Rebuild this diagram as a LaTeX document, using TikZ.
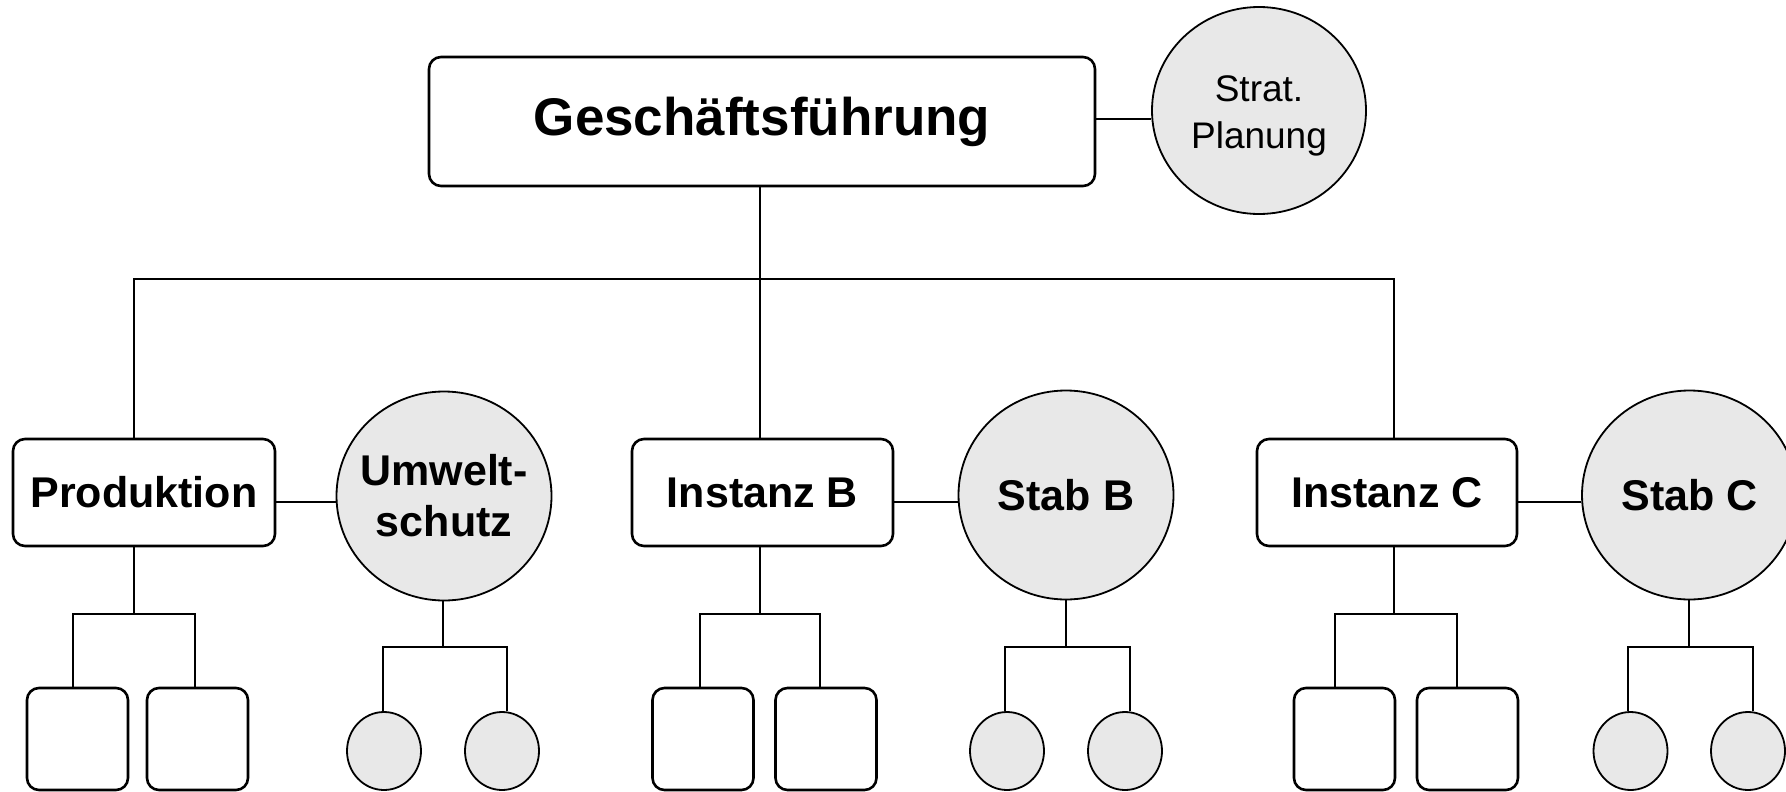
\documentclass[tikz,border=0pt]{standalone}
\usepackage{fontspec}
\setmainfont{Liberation Sans}
\usetikzlibrary{shapes.geometric}
\definecolor{staffgray}{RGB}{232,232,232}
\begin{document}
\begin{tikzpicture}[x=1pt,y=-1pt,
  unit/.style={draw, line width=2.6pt, rounded corners=12pt, inner sep=0pt, fill=white},
  staff/.style={ellipse, draw, line width=1.8pt, fill=staffgray, inner sep=0pt, align=center},
  boldlabel/.style={font=\bfseries\fontsize{43}{51}\selectfont},
  lvltwo/.style={unit, boldlabel, minimum height=107pt},
  bigstaff/.style={staff, boldlabel, minimum width=215pt, minimum height=209pt},
  leafbox/.style={unit, minimum width=101pt, minimum height=102pt},
  leafstaff/.style={staff, minimum width=74pt, minimum height=78pt},
  tree/.style={line width=2.5pt},
  link/.style={line width=1.8pt}]
\useasboundingbox (0,0) rectangle (1786,792);

% top management and its staff unit
\node[unit, minimum width=666pt, minimum height=129pt,
      font=\bfseries\fontsize{53}{62}\selectfont] (gf) at (762,121.5) {Geschäftsführung};
\node[staff, minimum width=214pt, minimum height=207pt,
      label={[font=\fontsize{37}{47}\selectfont, align=center, yshift=-5pt]center:Strat.\\Planung}]
      (strat) at (1259,110.5) {};
\coordinate (gfL) at ([yshift=2.5pt]gf.east);
\draw[link] (gfL) -- (gfL -| strat.west);

% second level: line units
\node[lvltwo, minimum width=262pt] (prod)  at (144,492.5)  {Produktion};
\node[lvltwo, minimum width=261pt] (instB) at (762.5,492.5) {Instanz B};
\node[lvltwo, minimum width=260pt] (instC) at (1387,492.5) {Instanz C};

% second level: staff units (negative inner sep keeps the two-line label
% from widening the ellipse)
\node[bigstaff, inner sep=-12pt] (umw) at (444,496) {Umwelt-\\schutz};
\node[bigstaff] (stabB) at (1066,495)   {Stab B};
\node[bigstaff] (stabC) at (1689.5,495) {Stab C};

% bus from top management to the line units
\coordinate (busL) at (134,279);
\coordinate (busM) at (760,279);
\coordinate (busR) at (1394,279);
\draw[tree] (gf.south -| busM) -- (instB.north -| busM);
\draw[tree] (prod.north -| busL) -- (busL) -- (busR) -- (instC.north -| busR);

% line units to their staff units
\coordinate (prodL)  at ([yshift=-9.5pt]prod.east);
\coordinate (instBL) at ([yshift=-9.5pt]instB.east);
\coordinate (instCL) at ([yshift=-9.5pt]instC.east);
\draw[link] (prodL)  -- (prodL -| umw.west);
\draw[link] (instBL) -- (instBL -| stabB.west);
\draw[link] (instCL) -- (instCL -| stabC.west);

% third level: subordinate units
\node[leafbox] (p1) at (77.5,739)  {};
\node[leafbox] (p2) at (197.5,739) {};
\node[leafbox] (b1) at (703,739)   {};
\node[leafbox] (b2) at (826,739)   {};
\node[leafbox] (c1) at (1344.5,739) {};
\node[leafbox] (c2) at (1467.5,739) {};

\node[leafstaff] (u1)  at (384,751)    {};
\node[leafstaff] (u2)  at (502,751)    {};
\node[leafstaff] (sb1) at (1007,751)   {};
\node[leafstaff] (sb2) at (1125,751)   {};
\node[leafstaff] (sc1) at (1630.5,751) {};
\node[leafstaff] (sc2) at (1748,751)   {};

% brackets below the line units
\foreach \top/\jx/\lx/\rx/\lft/\rgt in
  {prod/134/73/195/p1/p2, instB/760/700/820/b1/b2, instC/1394/1335/1457/c1/c2}{
  \coordinate (J) at (\jx,614);
  \coordinate (L) at (\lx,614);
  \coordinate (R) at (\rx,614);
  \draw[tree] (\top.south -| J) -- (J);
  \draw[tree] (L |- \lft.north) -- (L) -- (R) -- (R |- \rgt.north);
}

% brackets below the staff units
\foreach \top/\jx/\lx/\rx/\lft/\rgt in
  {umw/443/383/507/u1/u2, stabB/1066/1005/1130/sb1/sb2, stabC/1689/1628/1753/sc1/sc2}{
  \coordinate (J) at (\jx,647);
  \coordinate (L) at (\lx,647);
  \coordinate (R) at (\rx,647);
  \draw[tree] (\top.south -| J) -- (J);
  \draw[tree] (L |- \lft.north) -- (L) -- (R) -- (R |- \rgt.north);
}
\end{tikzpicture}
\end{document}
